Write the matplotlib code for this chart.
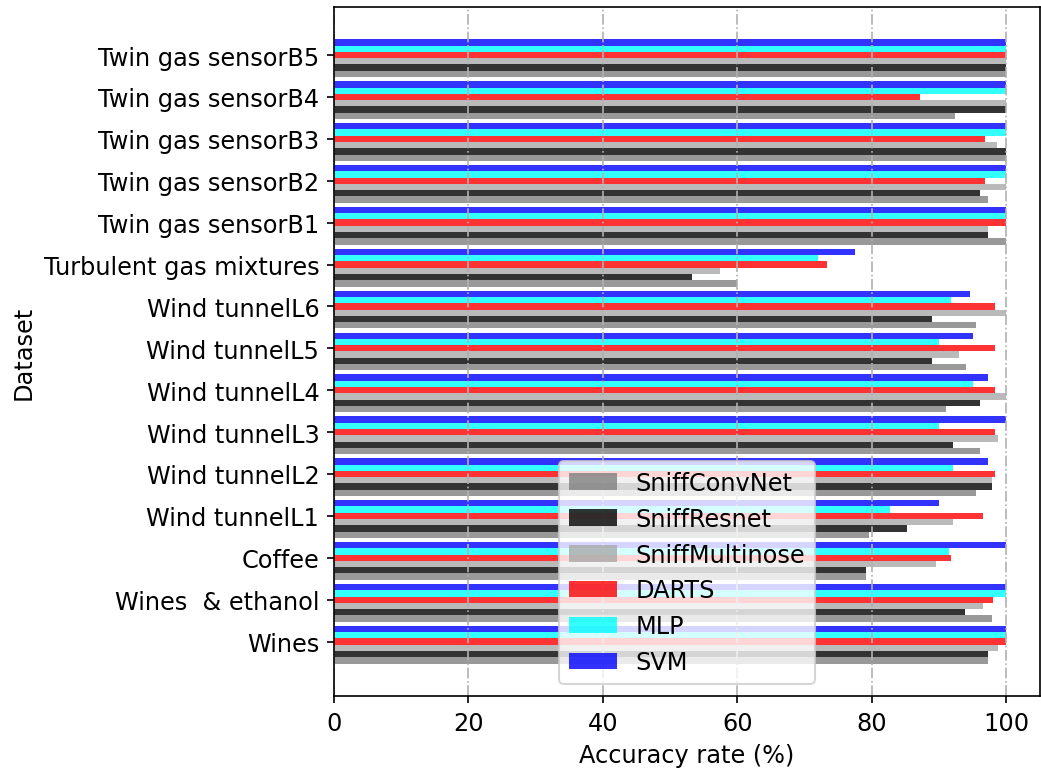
import matplotlib
matplotlib.use("Agg")
import matplotlib.pyplot as plt
import numpy as np


datasets = [
    "Wines",
    "Wines  & ethanol",
    "Coffee",
    "Wind tunnelL1",
    "Wind tunnelL2",
    "Wind tunnelL3",
    "Wind tunnelL4",
    "Wind tunnelL5",
    "Wind tunnelL6",
    "Turbulent gas mixtures",
    "Twin gas sensorB1",
    "Twin gas sensorB2",
    "Twin gas sensorB3",
    "Twin gas sensorB4",
    "Twin gas sensorB5",
]

sniff_convnet = [97.3, 97.8, 79.2, 79.5, 95.5, 96.1, 91.1, 94.0, 95.5, 60.0, 100, 97.3, 100, 92.3, 100]
sniff_resnet = [97.3, 93.8, 79.2, 85.2, 97.8, 92.1, 96.1, 89.0, 89.0, 53.3, 97.3, 96.1, 100, 100, 100]
sniff_multinose = [98.8, 96.5, 89.6, 92.1, 97.8, 98.8, 100, 93.0, 100, 57.4, 97.3, 100, 98.6, 100, 100]
darts = [100, 98.0, 91.8, 96.5, 98.3, 98.3, 98.3, 98.3, 98.3, 73.3, 100, 96.8, 96.8, 87.2, 100]
mlp = [100, 100, 91.5, 82.7, 92.1, 90.0, 95.0, 90.0, 91.7, 72.0, 100, 100, 100, 100, 100]
svm = [100, 100, 100, 90.0, 97.3, 99.9, 97.3, 95.0, 94.6, 77.5, 100, 100, 100, 100, 100]

series = [
    ("SniffConvNet", sniff_convnet, "gray"),
    ("SniffResnet", sniff_resnet, "black"),
    ("SniffMultinose", sniff_multinose, "darkgray"),
    ("DARTS", darts, "red"),
    ("MLP", mlp, "cyan"),
    ("SVM", svm, "blue"),
]

plt.rcParams["font.size"] = 11.5

y = np.arange(len(datasets))
height = 0.15

fig = plt.figure(figsize=(1041 / 150, 776 / 150), dpi=150)
ax = fig.add_subplot(111)

# bars stacked upward inside each group, tick sits on the 4th bar (DARTS)
for i, (name, values, color) in enumerate(series):
    ax.barh(y + (i - 3) * height, values, height, color=color, alpha=0.8, label=name)

ax.set_yticks(y)
ax.set_yticklabels(datasets)
ax.set_ylim(-1.30, 15.14)
ax.set_xlim(0, 105)
ax.set_xticks([0, 20, 40, 60, 80, 100])
ax.xaxis.grid(True, linestyle="-.")
ax.set_xlabel("Accuracy rate (%)")
ax.set_ylabel("Dataset")
ax.legend(loc="lower center")

plt.subplots_adjust(left=0.3208, right=0.999, top=0.9893, bottom=0.1018)
plt.savefig("out.png", dpi=150)
